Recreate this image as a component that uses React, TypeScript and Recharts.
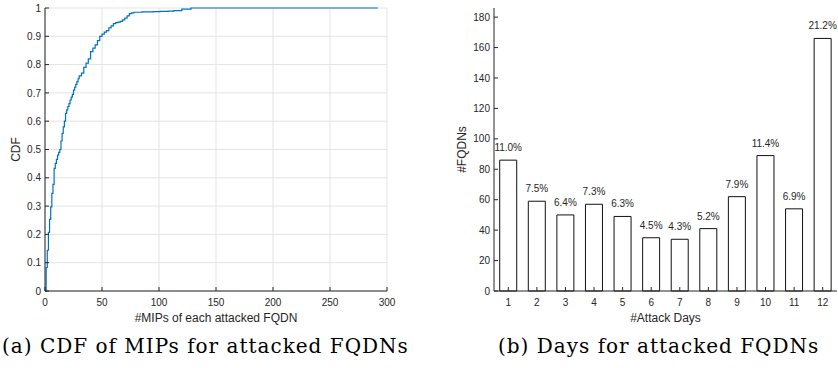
import React from 'react';
import {
  LineChart, Line, BarChart, Bar, XAxis, YAxis, CartesianGrid, LabelList,
} from 'recharts';

// ---------- Data ----------
const mipValues = [0, 1, 2, 3, 4, 5, 6, 7, 8, 9, 10, 11, 12, 13, 14, 15, 16, 17, 18, 19, 20, 21, 22, 23, 24, 25, 26, 27, 28, 29, 30, 32, 34, 36, 38, 40, 42, 44, 46, 48, 50, 52, 54, 56, 58, 60, 62, 64, 66, 68, 70, 72, 74, 76, 78, 85, 95, 101, 108, 113, 120, 128, 292];
const cdfValues = [0, 0.083, 0.144, 0.207, 0.253, 0.297, 0.345, 0.377, 0.433, 0.451, 0.465, 0.48, 0.49, 0.5, 0.53, 0.557, 0.58, 0.6, 0.628, 0.64, 0.652, 0.662, 0.675, 0.685, 0.695, 0.71, 0.72, 0.73, 0.74, 0.75, 0.76, 0.77, 0.79, 0.805, 0.82, 0.846, 0.858, 0.87, 0.885, 0.9, 0.908, 0.915, 0.92, 0.93, 0.937, 0.945, 0.948, 0.95, 0.953, 0.958, 0.964, 0.972, 0.98, 0.983, 0.985, 0.986, 0.987, 0.988, 0.989, 0.991, 0.996, 1, 1];
const cdfXTicks = [0, 50, 100, 150, 200, 250, 300];
const cdfYTicks = [0, 0.1, 0.2, 0.3, 0.4, 0.5, 0.6, 0.7, 0.8, 0.9, 1];
const cdfYTickLabels = ['0', '0.1', '0.2', '0.3', '0.4', '0.5', '0.6', '0.7', '0.8', '0.9', '1'];

const days = [1, 2, 3, 4, 5, 6, 7, 8, 9, 10, 11, 12];
const fqdnCounts = [86, 59, 50, 57, 49, 35, 34, 41, 62, 89, 54, 166];
const pctLabels = ['11.0%', '7.5%', '6.4%', '7.3%', '6.3%', '4.5%', '4.3%', '5.2%', '7.9%', '11.4%', '6.9%', '21.2%'];
const barYTicks = [0, 20, 40, 60, 80, 100, 120, 140, 160, 180];

const cdfData = mipValues.map((m, i) => ({ mip: m, cdf: cdfValues[i] }));
const barData = days.map((d, i) => ({ day: d, count: fqdnCounts[i], pct: pctLabels[i] }));

// ---------- Styles ----------
const AX = '#262626';
const SANS = 'Liberation Sans, Arial, Helvetica, sans-serif';
const TL = 4;

const BottomTick = (props: any) => {
  const { x, y, payload, labels } = props;
  return (
    <g>
      <line x1={x} y1={y} x2={x} y2={y - TL} stroke={AX} strokeWidth={1} />
      <text x={x} y={y + 15} textAnchor="middle" fontSize={10} fill={AX} fontFamily={SANS}>
        {labels ? labels[payload.index] : String(payload.value)}
      </text>
    </g>
  );
};
const TopTick = (props: any) => {
  const { x, y } = props;
  return <line x1={x} y1={y} x2={x} y2={y + TL} stroke={AX} strokeWidth={1} />;
};
const LeftTick = (props: any) => {
  const { x, y, payload, labels } = props;
  return (
    <g>
      <line x1={x} y1={y} x2={x + TL} y2={y} stroke={AX} strokeWidth={1} />
      <text x={x - 4} y={y + 3.6} textAnchor="end" fontSize={10} fill={AX} fontFamily={SANS}>
        {labels ? labels[payload.index] : String(payload.value)}
      </text>
    </g>
  );
};
const RightTick = (props: any) => {
  const { x, y } = props;
  return <line x1={x} y1={y} x2={x - TL} y2={y} stroke={AX} strokeWidth={1} />;
};

const axisLineStyle = { stroke: AX, strokeWidth: 1 };
const labelStyle = { fontSize: 12, fill: AX, fontFamily: SANS, textAnchor: 'middle' as const };

export default function App() {
  return (
    <div style={{ position: 'absolute', left: 0, top: 0, width: 838, height: 368, background: '#fff', overflow: 'hidden' }}>
      <svg width={838} height={368} style={{ position: 'absolute', left: 0, top: 0 }}>
        <text x={2} y={353} fontFamily="DejaVu Serif, serif" fontSize={20} letterSpacing={1.0} fill="#000">
          (a) CDF of MIPs for attacked FQDNs
        </text>
        <text x={498} y={353} fontFamily="DejaVu Serif, serif" fontSize={20} letterSpacing={1.0} fill="#000">
          (b) Days for attacked FQDNs
        </text>
      </svg>

      <div style={{ position: 'absolute', left: 0, top: 0 }}>
        <LineChart width={400} height={330} data={cdfData} margin={{ top: 8, right: 13, bottom: 0, left: 0 }}>
          <CartesianGrid stroke="#e3e3e3" strokeWidth={1} />
          <XAxis
            dataKey="mip" type="number" domain={[0, 300]} ticks={cdfXTicks} interval={0}
            height={39} tickSize={0} tickMargin={0} tickLine={false} axisLine={axisLineStyle}
            tick={<BottomTick />}
            label={{ value: '#MIPs of each attacked FQDN', position: 'insideBottom', offset: 8, style: labelStyle }}
          />
          <XAxis
            xAxisId="top" orientation="top" type="number" domain={[0, 300]} ticks={cdfXTicks} interval={0}
            height={0} tickSize={0} tickMargin={0} tickLine={false} axisLine={axisLineStyle}
            tick={<TopTick />}
          />
          <YAxis
            type="number" domain={[0, 1]} ticks={cdfYTicks} interval={0}
            width={45} tickSize={0} tickMargin={0} tickLine={false} axisLine={axisLineStyle}
            tick={<LeftTick labels={cdfYTickLabels} />}
            label={{ value: 'CDF', angle: -90, position: 'insideLeft', offset: 16, style: labelStyle }}
          />
          <YAxis
            yAxisId="right" orientation="right" type="number" domain={[0, 1]} ticks={cdfYTicks} interval={0}
            width={0} tickSize={0} tickMargin={0} tickLine={false} axisLine={axisLineStyle}
            tick={<RightTick />}
          />
          <Line
            dataKey="cdf" type="stepAfter" stroke="#0072BD" strokeWidth={1.2} dot={false}
            isAnimationActive={false}
          />
        </LineChart>
      </div>

      <div style={{ position: 'absolute', left: 420, top: 0 }}>
        <BarChart width={418} height={330} data={barData} margin={{ top: 8, right: 1, bottom: 0, left: 0 }} barCategoryGap="20%">
          <XAxis
            dataKey="day" type="category" interval={0}
            height={39} tickSize={0} tickMargin={0} tickLine={false} axisLine={axisLineStyle}
            tick={<BottomTick />}
            label={{ value: '#Attack Days', position: 'insideBottom', offset: 8, style: labelStyle }}
          />
          <XAxis
            xAxisId="top" dataKey="day" orientation="top" type="category" interval={0}
            height={0} tickSize={0} tickMargin={0} tickLine={false} axisLine={axisLineStyle}
            tick={<TopTick />}
          />
          <YAxis
            type="number" domain={[0, 186]} ticks={barYTicks} interval={0}
            width={74} tickSize={0} tickMargin={0} tickLine={false} axisLine={axisLineStyle}
            tick={<LeftTick />}
            label={{ value: '#FQDNs', angle: -90, position: 'insideLeft', offset: 42, style: labelStyle }}
          />
          <YAxis
            yAxisId="right" orientation="right" type="number" domain={[0, 186]} ticks={barYTicks} interval={0}
            width={0} tickSize={0} tickMargin={0} tickLine={false} axisLine={axisLineStyle}
            tick={<RightTick />}
          />
          <Bar dataKey="count" fill="#ffffff" stroke="#111" strokeWidth={1} isAnimationActive={false}>
            <LabelList dataKey="pct" position="top" offset={9} fontSize={10} fill={AX} fontFamily={SANS} />
          </Bar>
        </BarChart>
      </div>
    </div>
  );
}
